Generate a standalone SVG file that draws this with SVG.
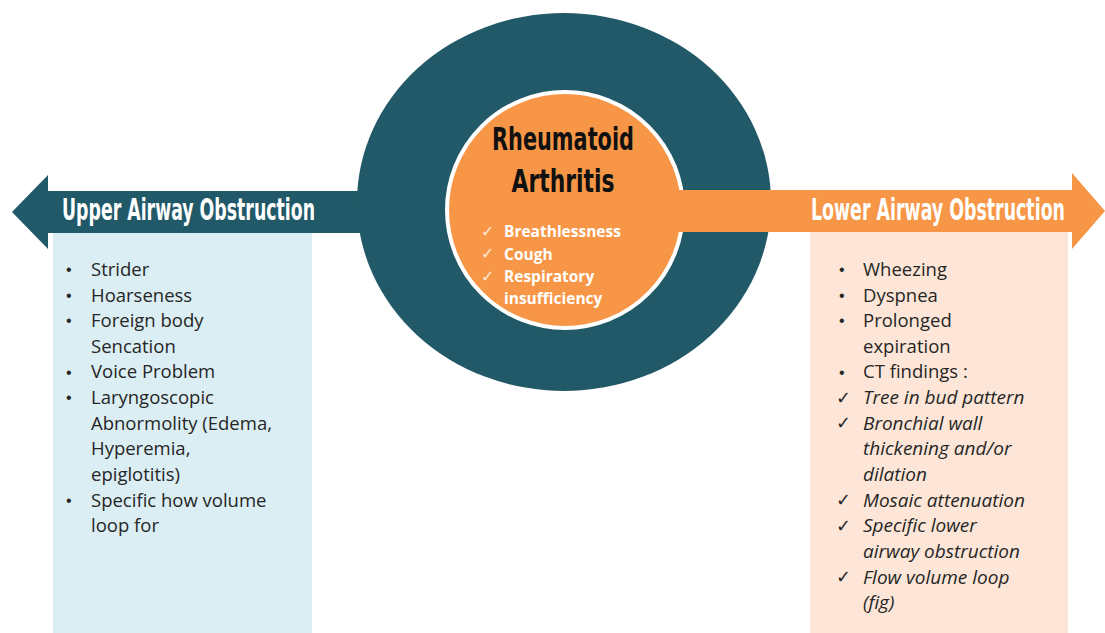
<svg xmlns="http://www.w3.org/2000/svg" width="1105" height="633" viewBox="0 0 1105 633">
  <defs>
    <style>
      .head { font-family: "Liberation Sans Narrow", "DejaVu Sans Condensed", "Liberation Sans", sans-serif; font-weight: bold; fill: #ffffff; font-size: 19.5px; }
      .title { font-family: "Liberation Sans Narrow", "DejaVu Sans Condensed", "Liberation Sans", sans-serif; font-weight: bold; fill: #111111; font-size: 32px; text-anchor: middle; }
      .item { font-family: "Open Sans", "Liberation Sans", sans-serif; font-size: 18.5px; fill: #262626; }
      .ital { font-style: italic; font-size: 19px; }
      .dot { font-family: "Liberation Sans", sans-serif; font-size: 16px; fill: #262626; }
      .chk { font-family: "DejaVu Sans", sans-serif; font-size: 18px; fill: #262626; }
      .sym { font-family: "Open Sans", "Liberation Sans", sans-serif; font-weight: bold; font-size: 15.5px; fill: #ffffff; }
      .symchk { font-family: "DejaVu Sans", sans-serif; font-size: 16px; fill: #fde9d9; }
    </style>
  </defs>

  <rect width="1105" height="633" fill="#ffffff"/>

  <!-- Upper airway: teal banner arrow pointing left, light blue list panel -->
  <g id="upper-airway">
    <polygon points="12,212 48,175 48,191 420,191 420,233 48,233 48,249" fill="#215968"/>
    <rect x="53" y="233" width="259" height="400" fill="#dbeef4"/>
    <text class="head" transform="translate(62,220) scale(1,1.55)" textLength="253" lengthAdjust="spacingAndGlyphs">Upper Airway Obstruction</text>
    <g>
      <text class="dot" x="66" y="275">•</text>
      <text class="dot" x="66" y="301">•</text>
      <text class="dot" x="66" y="326">•</text>
      <text class="dot" x="66" y="378">•</text>
      <text class="dot" x="66" y="403">•</text>
      <text class="dot" x="66" y="506">•</text>
      <text class="item" x="91" y="276">Strider</text>
      <text class="item" x="91" y="302">Hoarseness</text>
      <text class="item" x="91" y="327">Foreign body</text>
      <text class="item" x="91" y="353">Sencation</text>
      <text class="item" x="91" y="378">Voice Problem</text>
      <text class="item" x="91" y="404">Laryngoscopic</text>
      <text class="item" x="91" y="430">Abnormolity (Edema,</text>
      <text class="item" x="91" y="455">Hyperemia,</text>
      <text class="item" x="91" y="481">epiglotitis)</text>
      <text class="item" x="91" y="507">Specific how volume</text>
      <text class="item" x="91" y="532">loop for</text>
    </g>
  </g>

  <!-- Central ring with the disease in the middle -->
  <g id="rheumatoid-arthritis">
    <ellipse cx="564" cy="202" rx="207" ry="189" fill="#215968"/>
    <circle cx="565" cy="210" r="118" fill="#f79646" stroke="#ffffff" stroke-width="4"/>
    <text class="title" x="563" y="150" textLength="142" lengthAdjust="spacingAndGlyphs">Rheumatoid</text>
    <text class="title" x="563" y="192" textLength="103" lengthAdjust="spacingAndGlyphs">Arthritis</text>
    <text class="symchk" x="481" y="237">✓</text>
    <text class="symchk" x="481" y="259">✓</text>
    <text class="symchk" x="481" y="282">✓</text>
    <text class="sym" x="504" y="237">Breathlessness</text>
    <text class="sym" x="504" y="260">Cough</text>
    <text class="sym" x="504" y="282">Respiratory</text>
    <text class="sym" x="504" y="304">insufficiency</text>
  </g>

  <!-- Lower airway: orange banner arrow pointing right, peach list panel -->
  <g id="lower-airway">
    <polygon points="660,190 1072,190 1072,173 1105,211 1072,249 1072,232 660,232" fill="#f79646"/>
    <rect x="810" y="232" width="258" height="401" fill="#fde6d7"/>
    <text class="head" transform="translate(811,220) scale(1,1.55)" textLength="254" lengthAdjust="spacingAndGlyphs">Lower Airway Obstruction</text>
    <g>
      <text class="dot" x="839" y="275">•</text>
      <text class="dot" x="839" y="301">•</text>
      <text class="dot" x="839" y="326">•</text>
      <text class="dot" x="839" y="378">•</text>
      <text class="chk" x="836" y="404">✓</text>
      <text class="chk" x="836" y="429">✓</text>
      <text class="chk" x="836" y="506">✓</text>
      <text class="chk" x="836" y="532">✓</text>
      <text class="chk" x="836" y="583">✓</text>
      <text class="item" x="863" y="276">Wheezing</text>
      <text class="item" x="863" y="302">Dyspnea</text>
      <text class="item" x="863" y="327">Prolonged</text>
      <text class="item" x="863" y="353">expiration</text>
      <text class="item" x="863" y="378">CT findings :</text>
      <text class="item ital" x="863" y="404">Tree in bud pattern</text>
      <text class="item ital" x="863" y="430">Bronchial wall</text>
      <text class="item ital" x="863" y="455">thickening and/or</text>
      <text class="item ital" x="863" y="481">dilation</text>
      <text class="item ital" x="863" y="507">Mosaic attenuation</text>
      <text class="item ital" x="863" y="532">Specific lower</text>
      <text class="item ital" x="863" y="558">airway obstruction</text>
      <text class="item ital" x="863" y="584">Flow volume loop</text>
      <text class="item ital" x="863" y="609">(fig)</text>
    </g>
  </g>

  <g id="connectors"/>
</svg>
